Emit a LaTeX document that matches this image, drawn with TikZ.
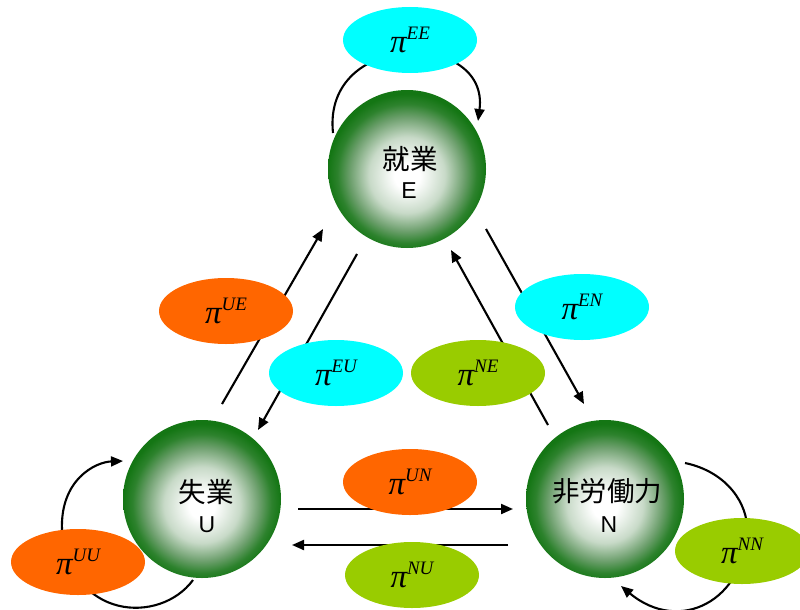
\documentclass[tikz,border=0pt]{standalone}
\usepackage{fontspec}
\setmainfont{Liberation Sans}
\newfontfamily\cjkfont{Noto Sans CJK JP}
\newfontfamily\seriffont{Liberation Serif}
\usetikzlibrary{shapes.geometric,arrows.meta}

\definecolor{ballgreen}{RGB}{20,118,20}
\definecolor{balldeep}{RGB}{45,130,45}
\definecolor{ballmid}{RGB}{110,160,110}
\definecolor{ballsoft}{RGB}{200,218,200}
\definecolor{pcyan}{RGB}{0,255,255}
\definecolor{porange}{RGB}{255,102,0}
\definecolor{plime}{RGB}{153,204,0}

% the node's border sits at 25bp of the shading
\pgfdeclareradialshading{ball}{\pgfpoint{0bp}{-2.5bp}}{%
  color(0bp)=(white); color(4bp)=(white); color(12bp)=(ballsoft);
  color(18bp)=(ballmid); color(22bp)=(balldeep); color(25bp)=(ballgreen);
  color(50bp)=(ballgreen)}

% transition probability label: pi with a two-letter superscript
\newcommand{\trans}[1]{{\seriffont\itshape\fontsize{33}{33}\selectfont π}%
  \raisebox{13pt}{\seriffont\itshape\fontsize{19}{19}\selectfont #1}}

\tikzset{
  state/.style={circle, minimum size=158pt, inner sep=0pt, shading=ball},
  statename/.style={inner sep=0pt, font=\cjkfont\fontsize{27.5}{28}\selectfont},
  statesym/.style={inner sep=0pt, font=\fontsize{23}{24}\selectfont},
  prob/.style={ellipse, minimum width=134pt, minimum height=66pt, inner sep=0pt},
  flow/.style={line width=2.1pt, -{Triangle[length=12pt,width=10pt]}},
}

\begin{document}
\begin{tikzpicture}[x=1pt,y=-1pt]
\useasboundingbox (0,0) rectangle (800,610);

% labour-market states
\node[state] (E) at (407,169) {};
\node[state] (U) at (202,499) {};
\node[state] (N) at (605,499) {};

\node[statename] (Ename) at ([shift={(3,-10)}]E) {就業};
\node[statesym]  (Esym)  at ([shift={(2,22)}]E)  {E};
\node[statename] (Uname) at ([shift={(4,-7)}]U)  {失業};
\node[statesym]  (Usym)  at ([shift={(5,26)}]U)  {U};
\node[statename] (Nname) at ([shift={(2,-8)}]N)  {非労働力};
\node[statesym]  (Nsym)  at ([shift={(4,26)}]N)  {N};

% arrow end points between the states
\coordinate (ueA) at (222,404); \coordinate (ueB) at (323,229);
\coordinate (euA) at (357,254); \coordinate (euB) at (258,430);
\coordinate (neA) at (548,425); \coordinate (neB) at (451,250);
\coordinate (enA) at (486,229); \coordinate (enB) at (584,404);
\coordinate (unA) at (298,509); \coordinate (unB) at (513,509);
\coordinate (nuA) at (508,545); \coordinate (nuB) at (292,545);

\draw[flow] (ueA) -- (ueB);
\draw[flow] (euA) -- (euB);
\draw[flow] (neA) -- (neB);
\draw[flow] (enA) -- (enB);
\draw[flow] (unA) -- (unB);
\draw[flow] (nuA) -- (nuB);

% self loops, passing behind their probability ellipses
\coordinate (eeA) at (333,133); \coordinate (eeB) at (478,121);
\coordinate (uuA) at (193,580); \coordinate (uuB) at (123,461);
\coordinate (nnA) at (685,463); \coordinate (nnB) at (621,586);
\draw[flow] (eeA) .. controls (322,30) and (490,30) .. (eeB);
\draw[flow] (uuA) .. controls (160,625) and (70,620) .. (62,530)
  .. controls (60,480) and (95,462) .. (uuB);
\draw[flow] (nnA) .. controls (728,472) and (748,505) .. (747,530)
  .. controls (745,600) and (680,635) .. (nnB);

% transition probabilities
\node[prob, fill=pcyan]   (pEE) at (410,40)  {\trans{EE}};
\node[prob, fill=porange] (pUE) at (226,311) {\trans{UE}};
\node[prob, fill=pcyan]   (pEU) at (336,373) {\trans{EU}};
\node[prob, fill=plime]   (pNE) at (478,373) {\trans{NE}};
\node[prob, fill=pcyan]   (pEN) at (582,307) {\trans{EN}};
\node[prob, fill=porange] (pUN) at (410,482) {\trans{UN}};
\node[prob, fill=plime]   (pNU) at (412,575) {\trans{NU}};
\node[prob, fill=porange] (pUU) at (78,562)  {\trans{UU}};
\node[prob, fill=plime]   (pNN) at (742,551) {\trans{NN}};
\end{tikzpicture}
\end{document}
